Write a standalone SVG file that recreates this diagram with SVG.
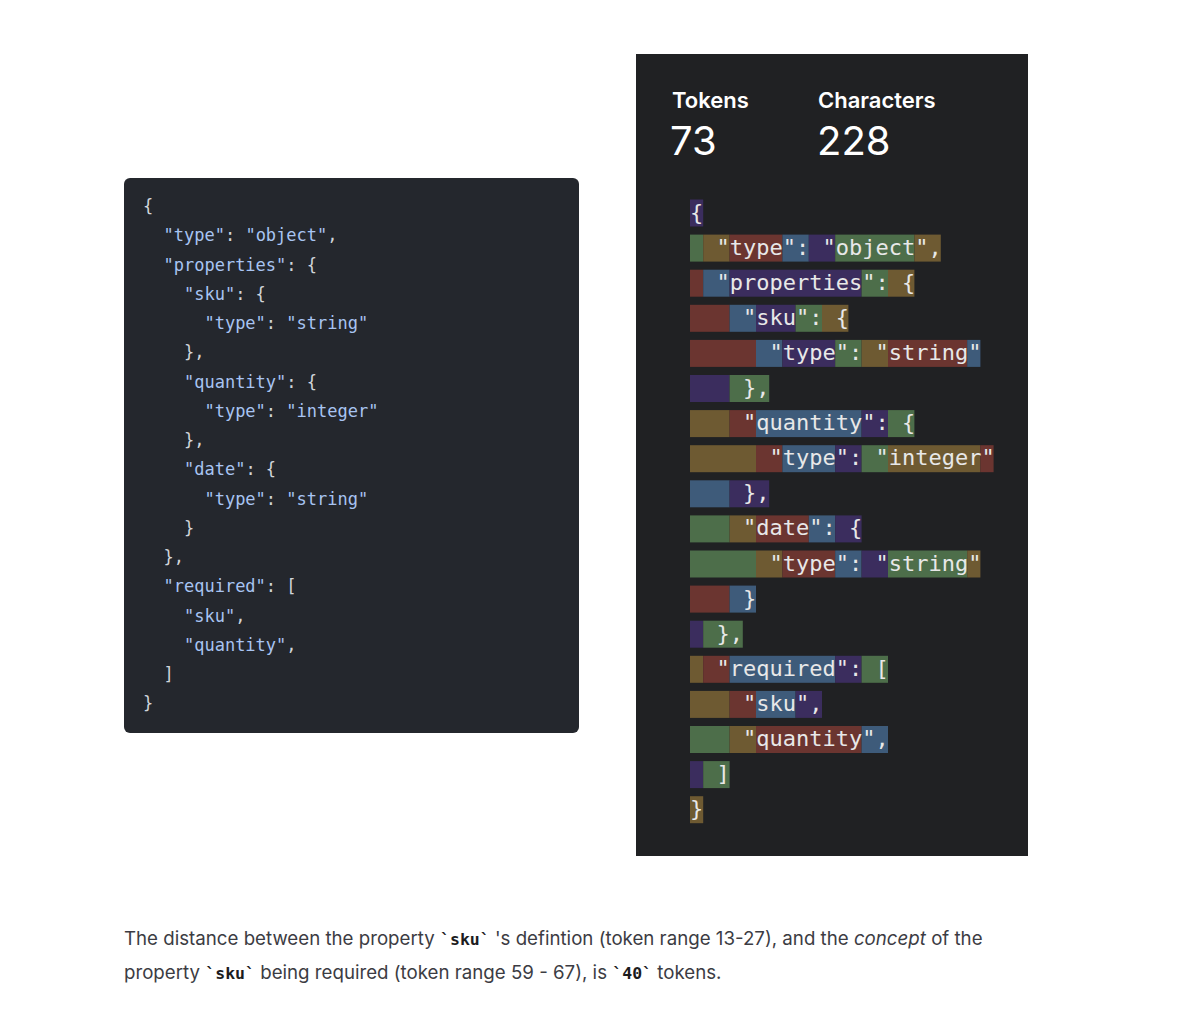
<svg xmlns="http://www.w3.org/2000/svg" width="1200" height="1017" viewBox="0 0 1200 1017">
<style>
.P{fill:#3b2d5e}.G{fill:#4d6e4a}.O{fill:#6e5a32}.R{fill:#6b3530}.B{fill:#3e5b7a}
.tk{font-family:"DejaVu Sans Mono",monospace;font-size:22px;fill:#e8e8e8;white-space:pre}
.lc{font-family:"DejaVu Sans Mono",monospace;font-size:17px;fill:#d1d5da;white-space:pre}
.s{fill:#a8c4f2}
.hd{font-family:"Inter","Liberation Sans",sans-serif;fill:#ffffff}
.body{font-family:"Inter","Liberation Sans",sans-serif;font-size:18.7px;fill:#3c3c43}
.cd{font-family:"DejaVu Sans Mono",monospace;font-weight:bold;font-size:16.5px;fill:#1c1c1e}
</style>
<rect width="1200" height="1017" fill="#ffffff"/>
<g id="left-code">
<rect x="124" y="178" width="455" height="555" rx="6" fill="#24272d"/>
<text class="lc" xml:space="preserve"><tspan x="143" y="212">{</tspan><tspan x="143" y="241.2">  <tspan class="s">"type"</tspan>: <tspan class="s">"object"</tspan>,</tspan><tspan x="143" y="270.5">  <tspan class="s">"properties"</tspan>: {</tspan><tspan x="143" y="299.7">    <tspan class="s">"sku"</tspan>: {</tspan><tspan x="143" y="329">      <tspan class="s">"type"</tspan>: <tspan class="s">"string"</tspan></tspan><tspan x="143" y="358.2">    },</tspan><tspan x="143" y="387.5">    <tspan class="s">"quantity"</tspan>: {</tspan><tspan x="143" y="416.7">      <tspan class="s">"type"</tspan>: <tspan class="s">"integer"</tspan></tspan><tspan x="143" y="446">    },</tspan><tspan x="143" y="475.2">    <tspan class="s">"date"</tspan>: {</tspan><tspan x="143" y="504.5">      <tspan class="s">"type"</tspan>: <tspan class="s">"string"</tspan></tspan><tspan x="143" y="533.7">    }</tspan><tspan x="143" y="563">  },</tspan><tspan x="143" y="592.2">  <tspan class="s">"required"</tspan>: [</tspan><tspan x="143" y="621.5">    <tspan class="s">"sku"</tspan>,</tspan><tspan x="143" y="650.7">    <tspan class="s">"quantity"</tspan>,</tspan><tspan x="143" y="680">  ]</tspan><tspan x="143" y="709.2">}</tspan></text>
</g>
<g id="tokenizer">
<rect x="636" y="54" width="392" height="802" fill="#202123"/>
<text class="hd" x="672" y="108" font-size="22" font-weight="600">Tokens</text>
<text class="hd" x="818" y="108" font-size="22" font-weight="600">Characters</text>
<text class="hd" x="670" y="155" font-size="40">73</text>
<text class="hd" x="817" y="155" font-size="40">228</text>
<g transform="translate(0,199.5)"><rect class="P" x="690" width="13.2" height="27"/><text class="tk" x="690" y="20">{</text></g>
<g transform="translate(0,234.6)"><rect class="G" x="690" width="13.2" height="27"/><rect class="O" x="703.2" width="26.4" height="27"/><rect class="R" x="729.6" width="52.8" height="27"/><rect class="B" x="782.4" width="26.4" height="27"/><rect class="P" x="808.8" width="26.4" height="27"/><rect class="G" x="835.2" width="79.2" height="27"/><rect class="O" x="914.4" width="26.4" height="27"/><text class="tk" x="690" y="20">  "type": "object",</text></g>
<g transform="translate(0,269.7)"><rect class="R" x="690" width="13.2" height="27"/><rect class="B" x="703.2" width="26.4" height="27"/><rect class="P" x="729.6" width="132" height="27"/><rect class="G" x="861.6" width="26.4" height="27"/><rect class="O" x="888" width="26.4" height="27"/><text class="tk" x="690" y="20">  "properties": {</text></g>
<g transform="translate(0,304.8)"><rect class="R" x="690" width="39.6" height="27"/><rect class="B" x="729.6" width="26.4" height="27"/><rect class="P" x="756" width="39.6" height="27"/><rect class="G" x="795.6" width="26.4" height="27"/><rect class="O" x="822" width="26.4" height="27"/><text class="tk" x="690" y="20">    "sku": {</text></g>
<g transform="translate(0,339.9)"><rect class="R" x="690" width="66" height="27"/><rect class="B" x="756" width="26.4" height="27"/><rect class="P" x="782.4" width="52.8" height="27"/><rect class="G" x="835.2" width="26.4" height="27"/><rect class="O" x="861.6" width="26.4" height="27"/><rect class="R" x="888" width="79.2" height="27"/><rect class="B" x="967.2" width="13.2" height="27"/><text class="tk" x="690" y="20">      "type": "string"</text></g>
<g transform="translate(0,375)"><rect class="P" x="690" width="39.6" height="27"/><rect class="G" x="729.6" width="39.6" height="27"/><text class="tk" x="690" y="20">    },</text></g>
<g transform="translate(0,410.1)"><rect class="O" x="690" width="39.6" height="27"/><rect class="R" x="729.6" width="26.4" height="27"/><rect class="B" x="756" width="105.6" height="27"/><rect class="P" x="861.6" width="26.4" height="27"/><rect class="G" x="888" width="26.4" height="27"/><text class="tk" x="690" y="20">    "quantity": {</text></g>
<g transform="translate(0,445.2)"><rect class="O" x="690" width="66" height="27"/><rect class="R" x="756" width="26.4" height="27"/><rect class="B" x="782.4" width="52.8" height="27"/><rect class="P" x="835.2" width="26.4" height="27"/><rect class="G" x="861.6" width="26.4" height="27"/><rect class="O" x="888" width="92.4" height="27"/><rect class="R" x="980.4" width="13.2" height="27"/><text class="tk" x="690" y="20">      "type": "integer"</text></g>
<g transform="translate(0,480.3)"><rect class="B" x="690" width="39.6" height="27"/><rect class="P" x="729.6" width="39.6" height="27"/><text class="tk" x="690" y="20">    },</text></g>
<g transform="translate(0,515.4)"><rect class="G" x="690" width="39.6" height="27"/><rect class="O" x="729.6" width="26.4" height="27"/><rect class="R" x="756" width="52.8" height="27"/><rect class="B" x="808.8" width="26.4" height="27"/><rect class="P" x="835.2" width="26.4" height="27"/><text class="tk" x="690" y="20">    "date": {</text></g>
<g transform="translate(0,550.5)"><rect class="G" x="690" width="66" height="27"/><rect class="O" x="756" width="26.4" height="27"/><rect class="R" x="782.4" width="52.8" height="27"/><rect class="B" x="835.2" width="26.4" height="27"/><rect class="P" x="861.6" width="26.4" height="27"/><rect class="G" x="888" width="79.2" height="27"/><rect class="O" x="967.2" width="13.2" height="27"/><text class="tk" x="690" y="20">      "type": "string"</text></g>
<g transform="translate(0,585.6)"><rect class="R" x="690" width="39.6" height="27"/><rect class="B" x="729.6" width="26.4" height="27"/><text class="tk" x="690" y="20">    }</text></g>
<g transform="translate(0,620.7)"><rect class="P" x="690" width="13.2" height="27"/><rect class="G" x="703.2" width="39.6" height="27"/><text class="tk" x="690" y="20">  },</text></g>
<g transform="translate(0,655.8)"><rect class="O" x="690" width="13.2" height="27"/><rect class="R" x="703.2" width="26.4" height="27"/><rect class="B" x="729.6" width="105.6" height="27"/><rect class="P" x="835.2" width="26.4" height="27"/><rect class="G" x="861.6" width="26.4" height="27"/><text class="tk" x="690" y="20">  "required": [</text></g>
<g transform="translate(0,690.9)"><rect class="O" x="690" width="39.6" height="27"/><rect class="R" x="729.6" width="26.4" height="27"/><rect class="B" x="756" width="39.6" height="27"/><rect class="P" x="795.6" width="26.4" height="27"/><text class="tk" x="690" y="20">    "sku",</text></g>
<g transform="translate(0,726)"><rect class="G" x="690" width="39.6" height="27"/><rect class="O" x="729.6" width="26.4" height="27"/><rect class="R" x="756" width="105.6" height="27"/><rect class="B" x="861.6" width="26.4" height="27"/><text class="tk" x="690" y="20">    "quantity",</text></g>
<g transform="translate(0,761.1)"><rect class="P" x="690" width="13.2" height="27"/><rect class="G" x="703.2" width="26.4" height="27"/><text class="tk" x="690" y="20">  ]</text></g>
<g transform="translate(0,796.2)"><rect class="O" x="690" width="13.2" height="27"/><text class="tk" x="690" y="20">}</text></g>
</g>
<g id="caption">
<text class="body" x="124" y="945" xml:space="preserve">The distance between the property <tspan class="cd">`sku`</tspan> 's defintion (token range 13-27), and the <tspan font-style="italic">concept</tspan> of the</text>
<text class="body" x="124" y="979" xml:space="preserve">property <tspan class="cd">`sku`</tspan> being required (token range 59 - 67), is <tspan class="cd">`40`</tspan> tokens.</text>
</g>
</svg>
